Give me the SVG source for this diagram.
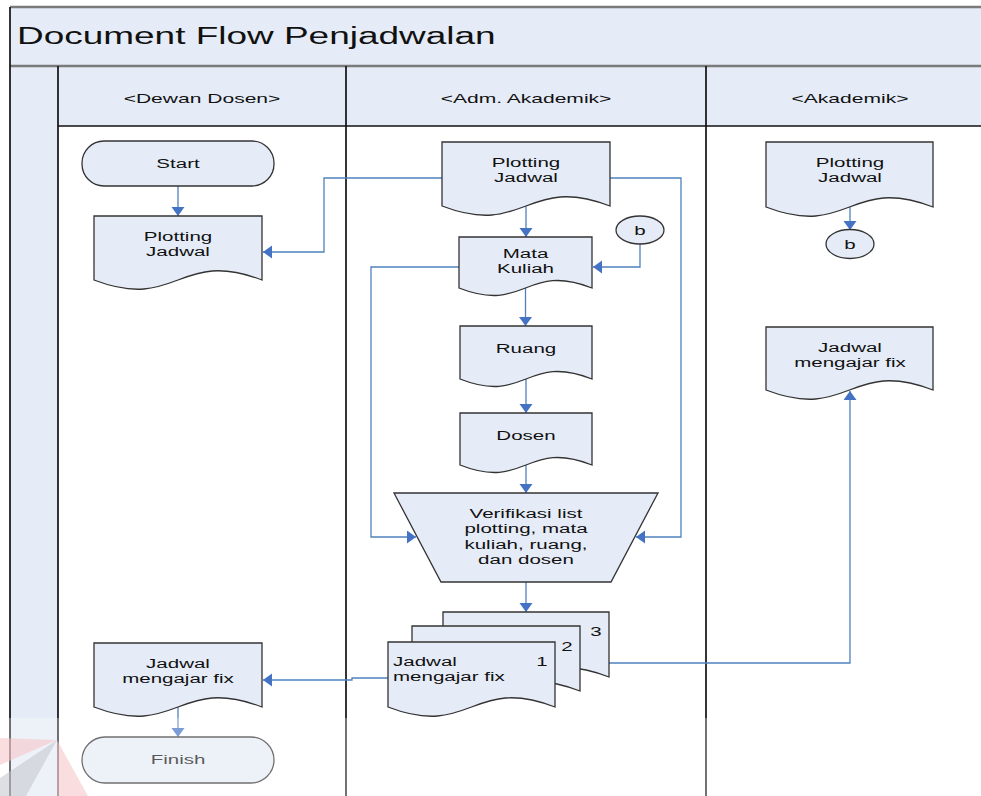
<svg xmlns="http://www.w3.org/2000/svg" width="981" height="796" viewBox="0 0 981 796">
  <style>
    .band { fill: #e6ecf7; stroke: none; }
    .frame { fill: none; stroke: #7a7a7a; stroke-width: 2.4; }
    .lane { fill: none; stroke: #111; stroke-width: 1.7; }
    .shape { fill: #e6ecf7; stroke: #333; stroke-width: 1.3; }
    .conn { fill: none; stroke: #4f81bd; stroke-width: 1.3; }
    .t { font-family: "Liberation Sans", Arial, sans-serif; font-size: 13.5px; fill: #111; text-anchor: middle; }
    .tl { text-anchor: start; }
    .hdr { font-family: "Liberation Sans", Arial, sans-serif; font-size: 13.5px; fill: #111; text-anchor: middle; }
    .title { font-family: "Liberation Sans", Arial, sans-serif; font-size: 23.4px; fill: #111; }
  </style>
  <defs>
    <marker id="arrow" markerUnits="userSpaceOnUse" markerWidth="10" markerHeight="14" refX="9" refY="6.5" orient="auto">
      <path d="M0,0 L9,6.5 L0,13 Z" fill="#4472c4"/>
    </marker>
  </defs>

  <rect width="981" height="796" fill="#fff"/>

  <!-- pool: title bar, header row and left strip -->
  <g id="pool">
    <rect class="band" x="10" y="7" width="971" height="59"/>
    <rect class="band" x="58" y="66" width="923" height="60"/>
    <rect class="band" x="10" y="66" width="48" height="730"/>
    <line class="frame" x1="10" y1="7" x2="981" y2="7"/>
    <line class="frame" x1="10" y1="66" x2="981" y2="66"/>
    <line class="lane" x1="10" y1="7" x2="10" y2="796"/>
    <line class="lane" x1="58" y1="66" x2="58" y2="796"/>
    <line class="lane" x1="346" y1="66" x2="346" y2="796"/>
    <line class="lane" x1="706" y1="66" x2="706" y2="796"/>
    <line class="lane" x1="58" y1="126" x2="981" y2="126"/>
    <text class="title" transform="translate(17 44) scale(1.58 1)">Document Flow Penjadwalan</text>
    <text class="hdr" transform="translate(202 103) scale(1.56 1)">&lt;Dewan Dosen&gt;</text>
    <text class="hdr" transform="translate(526 103) scale(1.56 1)">&lt;Adm. Akademik&gt;</text>
    <text class="hdr" transform="translate(850 103) scale(1.56 1)">&lt;Akademik&gt;</text>
  </g>

  <!-- connectors -->
  <g id="connectors">
    <polyline class="conn" points="178,186 178,216" marker-end="url(#arrow)"/>
    <polyline class="conn" points="442,178 324,178 324,252 263,252" marker-end="url(#arrow)"/>
    <polyline class="conn" points="526,206 526,237" marker-end="url(#arrow)"/>
    <polyline class="conn" points="640,244 640,267 593,267" marker-end="url(#arrow)"/>
    <polyline class="conn" points="459,267 371,267 371,537 416,537" marker-end="url(#arrow)"/>
    <polyline class="conn" points="610,178 681,178 681,537 636,537" marker-end="url(#arrow)"/>
    <polyline class="conn" points="525.5,288 525.5,326" marker-end="url(#arrow)"/>
    <polyline class="conn" points="526,379 526,413" marker-end="url(#arrow)"/>
    <polyline class="conn" points="526,465 526,493" marker-end="url(#arrow)"/>
    <polyline class="conn" points="526,582 526,612" marker-end="url(#arrow)"/>
    <polyline class="conn" points="388,678 352,678 352,680 263,680" marker-end="url(#arrow)"/>
    <polyline class="conn" points="580,663 850,663 850,391" marker-end="url(#arrow)"/>
    <polyline class="conn" points="850,207 850,230" marker-end="url(#arrow)"/>
    <polyline class="conn" points="178,707 178,737" marker-end="url(#arrow)"/>
  </g>

  <!-- Dewan Dosen lane -->
  <g id="start">
    <rect class="shape" x="82" y="141" width="192" height="45" rx="22" ry="22"/>
    <text class="t" transform="translate(178 168) scale(1.52 1)">Start</text>
  </g>
  <g id="dewan-plotting">
    <path class="shape" d="M94 216 H262 V280 C178 248 178 312 94 280 Z"/>
    <text class="t" transform="translate(178 241) scale(1.52 1)"><tspan x="0">Plotting</tspan><tspan x="0" dy="15.5">Jadwal</tspan></text>
  </g>
  <g id="dewan-jadwal-fix">
    <path class="shape" d="M94 643 H262 V707 C178 675 178 739 94 707 Z"/>
    <text class="t" transform="translate(178 667.5) scale(1.52 1)"><tspan x="0">Jadwal</tspan><tspan x="0" dy="15.5">mengajar fix</tspan></text>
  </g>
  <g id="finish">
    <rect class="shape" x="82" y="737" width="192" height="46" rx="23" ry="23"/>
    <text class="t" transform="translate(178 764) scale(1.52 1)">Finish</text>
  </g>

  <!-- Adm. Akademik lane -->
  <g id="adm-plotting">
    <path class="shape" d="M442 142 H610 V206 C526 174 526 238 442 206 Z"/>
    <text class="t" transform="translate(526 167) scale(1.52 1)"><tspan x="0">Plotting</tspan><tspan x="0" dy="15.5">Jadwal</tspan></text>
  </g>
  <g id="adm-b">
    <ellipse class="shape" cx="640" cy="230" rx="24" ry="14"/>
    <text class="t" transform="translate(640 234.5) scale(1.52 1)">b</text>
  </g>
  <g id="mata-kuliah">
    <path class="shape" d="M459 237 H592 V288 C525.5 262 525.5 314 459 288 Z"/>
    <text class="t" transform="translate(525.5 257.5) scale(1.52 1)"><tspan x="0">Mata</tspan><tspan x="0" dy="15.5">Kuliah</tspan></text>
  </g>
  <g id="ruang">
    <path class="shape" d="M460 326 H592 V379 C526 353 526 405 460 379 Z"/>
    <text class="t" transform="translate(526 353) scale(1.52 1)">Ruang</text>
  </g>
  <g id="dosen">
    <path class="shape" d="M460 413 H592 V465 C526 439 526 491 460 465 Z"/>
    <text class="t" transform="translate(526 440) scale(1.52 1)">Dosen</text>
  </g>
  <g id="verifikasi">
    <polygon class="shape" points="394,493 658,493 611,582 441,582"/>
    <text class="t" transform="translate(526 518) scale(1.52 1)"><tspan x="0">Verifikasi list</tspan><tspan x="0" dy="15.5">plotting, mata</tspan><tspan x="0" dy="15.5">kuliah, ruang,</tspan><tspan x="0" dy="15.5">dan dosen</tspan></text>
  </g>
  <g id="jadwal-stack">
    <path class="shape" d="M443 612 H609 V677 C526 645 526 709 443 677 Z"/>
    <path class="shape" d="M412 626 H580 V691 C496 659 496 723 412 691 Z"/>
    <path class="shape" d="M388 642 H555 V707 C471.5 675 471.5 739 388 707 Z"/>
    <text class="t" transform="translate(596 636) scale(1.52 1)">3</text>
    <text class="t" transform="translate(567 651) scale(1.52 1)">2</text>
    <text class="t" transform="translate(542 666) scale(1.52 1)">1</text>
    <text class="t tl" transform="translate(393 666) scale(1.52 1)"><tspan x="0">Jadwal</tspan><tspan x="0" dy="15.5">mengajar fix</tspan></text>
  </g>

  <!-- Akademik lane -->
  <g id="akademik-plotting">
    <path class="shape" d="M766 142 H933 V207 C849.5 175 849.5 239 766 207 Z"/>
    <text class="t" transform="translate(850 167) scale(1.52 1)"><tspan x="0">Plotting</tspan><tspan x="0" dy="15.5">Jadwal</tspan></text>
  </g>
  <g id="akademik-b">
    <ellipse class="shape" cx="850" cy="244" rx="24" ry="14.5"/>
    <text class="t" transform="translate(850 248.5) scale(1.52 1)">b</text>
  </g>
  <g id="akademik-jadwal-fix">
    <path class="shape" d="M766 327 H933 V390 C849.5 358 849.5 422 766 390 Z"/>
    <text class="t" transform="translate(850 351.5) scale(1.52 1)"><tspan x="0">Jadwal</tspan><tspan x="0" dy="15.5">mengajar fix</tspan></text>
  </g>

  <!-- faint logo in the lower left corner and light haze over the bottom edge -->
  <g id="watermark">
    <polygon points="57,740 0,738 0,765" fill="#f2a9ad" opacity="0.55"/>
    <polygon points="57,740 0,778 0,796 26,796" fill="#a9adb6" opacity="0.55"/>
    <polygon points="57,740 57,796 88,796" fill="#f2a9ad" opacity="0.55"/>
    <rect x="0" y="718" width="981" height="78" fill="#fff" opacity="0.3"/>
  </g>
</svg>
